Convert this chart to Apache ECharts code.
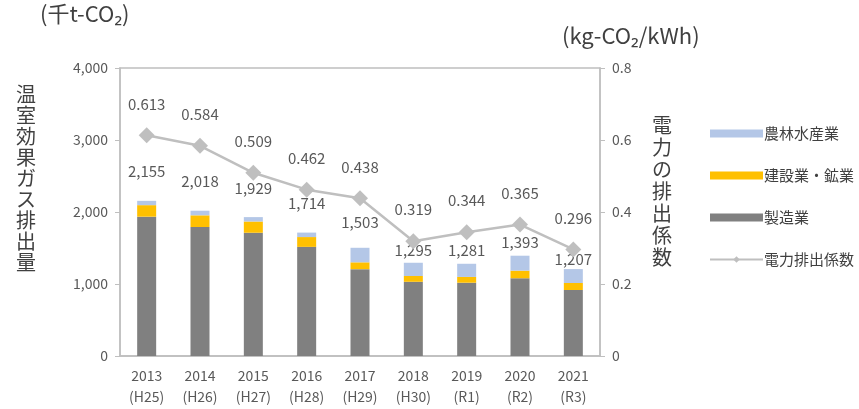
<!DOCTYPE html>
<html><head><meta charset="utf-8">
<script src="https://cdn.jsdelivr.net/npm/echarts@6/dist/echarts.min.js"></script>
<style>html,body{margin:0;padding:0;background:#fff}#c{width:859px;height:409px}</style>
</head><body><div id="c"></div>
<script>
const years = ['2013','2014','2015','2016','2017','2018','2019','2020','2021'];
const eras = ['(H25)','(H26)','(H27)','(H28)','(H29)','(H30)','(R1)','(R2)','(R3)'];
const manufacturing = [1935, 1792, 1712, 1516, 1206, 1031, 1018, 1080, 917];
const construction = [160, 162, 156, 136, 95, 80, 80, 105, 97];
const agriculture = [60, 64, 61, 62, 202, 184, 183, 208, 193];
const totals = [2155, 2018, 1929, 1714, 1503, 1295, 1281, 1393, 1207];
const emissionFactor = [0.613, 0.584, 0.509, 0.462, 0.438, 0.319, 0.344, 0.365, 0.296];
const leftTicks = [0, 1000, 2000, 3000, 4000];
const rightTicks = [0, 0.2, 0.4, 0.6, 0.8];

// label lift (style) for total labels
const totalLabelLift = [22, 22, 21, 22, 18, 5, 6, 6, 2];

const FONT = '"Noto Sans CJK JP", "Noto Sans", sans-serif';
const TXT = '#595959';
const chart = echarts.init(document.getElementById('c'));
const cats = years.map((y, i) => y + '\n' + eras[i]);

chart.setOption({
  animation: false,
  textStyle: { fontFamily: FONT },
  grid: { left: 120, right: 259, top: 68, bottom: 53, show: true, borderColor: '#BFBFBF', borderWidth: 1.5 },
  legend: {
    orient: 'vertical', left: 704, top: 121, itemWidth: 53, itemHeight: 8, itemGap: 27,
    textStyle: { fontFamily: FONT, fontSize: 15, color: '#404040', padding: [0, 0, 0, -4] },
    data: [
      { name: '農林水産業', icon: 'rect' },
      { name: '建設業・鉱業', icon: 'rect' },
      { name: '製造業', icon: 'rect' },
      { name: '電力排出係数' }
    ]
  },
  xAxis: {
    type: 'category', data: cats,
    axisLine: { lineStyle: { color: '#BFBFBF', width: 1.5 } },
    axisTick: { show: false },
    axisLabel: { color: TXT, fontSize: 14, lineHeight: 21, margin: 9, fontFamily: FONT }
  },
  yAxis: [
    { type: 'value', min: 0, max: 4000, interval: 1000,
      axisLine: { show: true, lineStyle: { color: '#BFBFBF', width: 1.5 } },
      axisTick: { show: true, length: 5, lineStyle: { color: '#BFBFBF' } },
      splitLine: { show: false },
      axisLabel: { color: TXT, fontSize: 14, margin: 12, fontFamily: FONT,
        formatter: v => leftTicks.includes(v) ? v.toLocaleString('en-US') : '' } },
    { type: 'value', min: 0, max: 0.8, interval: 0.2,
      axisLine: { show: true, lineStyle: { color: '#BFBFBF', width: 1.5 } },
      axisTick: { show: true, length: 5, lineStyle: { color: '#BFBFBF' } },
      splitLine: { show: false },
      axisLabel: { color: TXT, fontSize: 14, margin: 12, fontFamily: FONT,
        formatter: v => { const r = rightTicks.find(t => Math.abs(t - v) < 1e-9); return r === 0 ? '0' : (r !== undefined ? r.toFixed(1) : ''); } } }
  ],
  series: [
    { name: '製造業', type: 'bar', stack: 't', barWidth: 19, data: manufacturing, itemStyle: { color: '#808080' } },
    { name: '建設業・鉱業', type: 'bar', stack: 't', data: construction, itemStyle: { color: '#FFC000' } },
    { name: '農林水産業', type: 'bar', stack: 't', itemStyle: { color: '#B4C7E7' },
      data: agriculture.map((v, i) => ({ value: v, label: { distance: totalLabelLift[i] } })),
      label: { show: true, position: 'top', color: TXT, fontSize: 15, fontFamily: FONT,
        formatter: p => totals[p.dataIndex].toLocaleString('en-US') } },
    { name: '電力排出係数', type: 'line', yAxisIndex: 1, data: emissionFactor,
      symbol: 'diamond', symbolSize: 16,
      lineStyle: { color: '#BFBFBF', width: 2.5 }, itemStyle: { color: '#BFBFBF' },
      label: { show: true, position: 'top', distance: 16, color: TXT, fontSize: 15, fontFamily: FONT,
        formatter: p => p.value.toFixed(3) } }
  ],
  graphic: [
    { type: 'text', left: 40, top: 3, style: { text: '(千t-CO₂)', font: '22px ' + FONT, fill: '#404040' } },
    { type: 'text', left: 562, top: 25, style: { text: '(kg-CO₂/kWh)', font: '22px ' + FONT, fill: '#404040' } },
    { type: 'text', left: 16, top: 84, style: { text: '温室効果ガス排出量'.split('').join('\n'), font: '20px ' + FONT, lineHeight: 21, fill: '#404040' } },
    { type: 'text', left: 652, top: 114, style: { text: '電力の排出係数'.split('').join('\n'), font: '20px ' + FONT, lineHeight: 22, fill: '#404040' } }
  ]
});
</script></body></html>
